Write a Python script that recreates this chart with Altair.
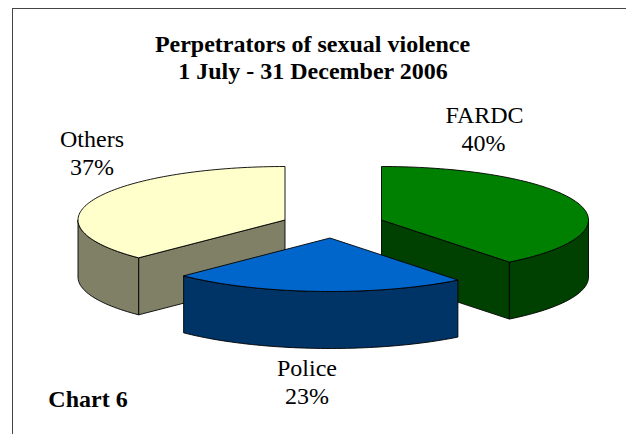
import math
import altair as alt

categories = ["FARDC", "Police", "Others"]
shares = [39.4, 23.1, 37.5]  # swept share of the rim as drawn
percent_labels = ["40%", "23%", "37%"]
title_lines = ["Perpetrators of sexual violence", "1 July - 31 December 2006"]
note = "Chart 6"

top_colors = ["#008000", "#0066cc", "#ffffcc"]
side_colors = ["#004000", "#003366", "#808066"]
centers = [(373.5, 212), (322, 230), (277, 212)]
RX, RY, DEPTH = 207, 53.5, 57
OX, OY = 8, 8  # page margin


def pt(c, a, dz=0):
    r = math.radians(a)
    return [c[0] + RX * math.sin(r), c[1] - RY * math.cos(r) + dz]


def arc(c, a0, a1, dz=0):
    n = max(2, int(abs(a1 - a0) / 1.5))
    return [pt(c, a0 + (a1 - a0) * i / n, dz) for i in range(n + 1)]


features = []


def add(ring, fill, order):
    ring = ring + [ring[0]]
    features.append({"type": "Feature",
                     "properties": {"fill": fill, "order": order},
                     "geometry": {"type": "Polygon", "coordinates": [ring]}})


# back to front: Others, FARDC, then Police
start = 0
spans = []
for v in shares:
    spans.append((start, start + v * 3.6))
    start += v * 3.6

for rank, i in enumerate([2, 0, 1]):
    a0, a1 = spans[i]
    c = centers[i]
    k = rank * 10
    # radial faces
    if math.sin(math.radians(a1)) > 1e-6:
        p = pt(c, a1)
        add([list(c), p, [p[0], p[1] + DEPTH], [c[0], c[1] + DEPTH]], side_colors[i], k)
    if math.sin(math.radians(a0)) < -1e-6:
        p = pt(c, a0)
        add([list(c), p, [p[0], p[1] + DEPTH], [c[0], c[1] + DEPTH]], side_colors[i], k)
    # outer wall: the part of the rim on the near side
    w0, w1 = max(a0, 90), min(a1, 270)
    if w1 > w0:
        add(arc(c, w0, w1) + arc(c, w1, w0, DEPTH), side_colors[i], k + 1)
    # top face
    add([list(c)] + arc(c, a0, a1), top_colors[i], k + 2)

shapes = (
    alt.Chart(alt.Data(values=features))
    .mark_geoshape(stroke="#000000", strokeWidth=0.9, strokeJoin="round")
    .encode(fill=alt.Fill("properties.fill:N", scale=None),
            order=alt.Order("properties.order:Q"))
    .project(type="identity", scale=1, translate=[0, 0])
)

frame_h = (alt.Chart(alt.Data(values=[{"k": 0}])).mark_rule(color="#444444", strokeWidth=1)
           .encode(x=alt.value(4), x2=alt.value(618), y=alt.value(0.5)))
frame_v = (alt.Chart(alt.Data(values=[{"k": 0}])).mark_rule(color="#444444", strokeWidth=1)
           .encode(x=alt.value(4.5), y=alt.value(0), y2=alt.value(426)))


def text(label, x, y, size, bold=False):
    return (alt.Chart(alt.Data(values=[{"t": label}]))
            .mark_text(font="Liberation Serif", fontSize=size,
                       fontWeight="bold" if bold else "normal",
                       color="#000000", align="center", baseline="alphabetic")
            .encode(text="t:N", x=alt.value(x - OX), y=alt.value(y - OY)))


layers = [frame_h, frame_v, shapes,
          text(title_lines[0], 312.5, 52, 24, True),
          text(title_lines[1], 313, 79, 24, True),
          text(categories[0], 484.5, 123, 24),
          text(percent_labels[0], 483.5, 151, 24),
          text(categories[1], 307, 376, 24),
          text(percent_labels[1], 307, 404, 24),
          text(categories[2], 92, 147, 24),
          text(percent_labels[2], 92, 175, 24),
          text(note, 88, 407, 24, True)]

chart = alt.layer(*layers).properties(
    width=618, height=426, padding=0, autosize=alt.AutoSizeParams(type="none"),
    background="#ffffff"
).configure_view(stroke=None)

chart.save("out.html", embed_options={"renderer": "svg", "actions": False})
